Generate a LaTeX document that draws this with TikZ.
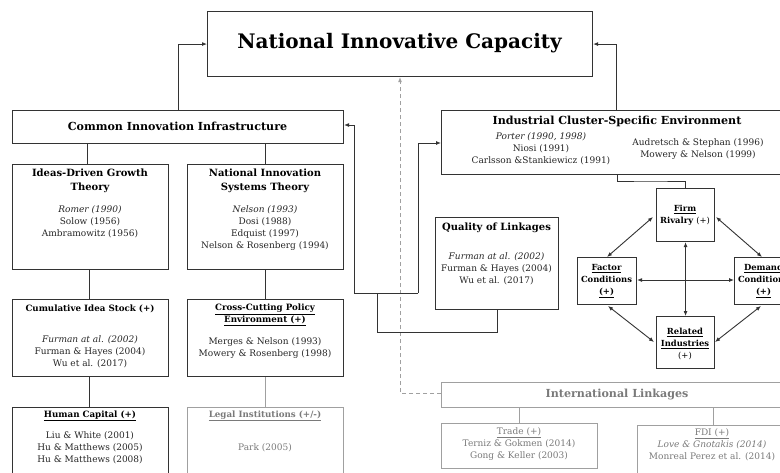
\documentclass[tikz,border=0pt]{standalone}
\usepackage{fontspec}
\setmainfont{DejaVu Serif}
\usetikzlibrary{arrows.meta}
\definecolor{boxc}{HTML}{333333}
\definecolor{grayc}{HTML}{A0A0A0}
\definecolor{grayt}{HTML}{7A7A7A}
\newcommand\mybox[6]{\node[#6, anchor=north west, minimum width={(#4-#2)*1pt}, minimum height={(#5-#3)*1pt}, inner sep=0pt] (#1) at (#2,#3) {};}
\begin{document}
\begin{tikzpicture}[x=1pt,y=-1pt,
  box/.style={draw=boxc, line width=1.1pt},
  gbox/.style={draw=grayc, line width=1.1pt},
  txt/.style={inner sep=0pt, align=center, font=\fontsize{9}{12}\selectfont, text=black!85},
  gtxt/.style={txt, text=grayt},
  hd/.style={inner sep=0pt, align=center, font=\fontsize{10}{14}\selectfont\bfseries},
  sm/.style={inner sep=0pt, align=center, font=\fontsize{8.7}{12}\selectfont\bfseries},
  pm/.style={inner sep=0pt, align=center, font=\fontsize{8.4}{12}\selectfont\bfseries},
  big/.style={inner sep=0pt, font=\fontsize{11.1}{13}\selectfont\bfseries},
  conn/.style={draw=boxc, line width=0.9pt},
  gconn/.style={draw=grayc, line width=0.9pt},
  arr/.style={conn, -{Latex[length=5pt,width=4pt]}},
  darr/.style={conn, {Latex[length=5pt,width=4pt]}-{Latex[length=5pt,width=4pt]}}]
\useasboundingbox (0,0) rectangle (780,472);
\fill[white] (0,0) rectangle (780,472);

% boxes
\mybox{nic}{207}{11}{592}{76}{box}
\mybox{cii}{12}{110}{343}{143}{box}
\mybox{idg}{12}{164}{168}{269}{box}
\mybox{nis}{187}{164}{343}{269}{box}
\mybox{cis}{12}{299}{168}{376}{box}
\mybox{ccp}{187}{299}{343}{376}{box}
\mybox{hc}{12}{407}{168}{485}{box}
\mybox{legal}{187}{407}{343}{485}{gbox}
\mybox{ql}{435}{217}{558}{309}{box}
\mybox{icse}{441}{110}{793}{174}{box}
\mybox{firm}{656}{188}{714}{241}{box}
\mybox{factor}{577}{257}{636}{304}{box}
\mybox{demand}{734}{257}{793}{304}{box}
\mybox{related}{656}{316}{714}{368}{box}
\mybox{intl}{441}{382}{793}{407}{gbox}
\mybox{trade}{441}{423}{597}{468}{gbox}
\mybox{fdi}{637}{425}{787}{480}{gbox}

% texts
\node[inner sep=0pt, font=\fontsize{20}{24}\selectfont\bfseries] (nict) at (399.5,43) {National Innovative Capacity};
\node[big] (ciit) at (177.5,126.5) {Common Innovation Infrastructure};
\node[hd] (idgh) at (90,181) {Ideas-Driven Growth\\Theory};
\node[txt] (idgc) at (90,222) {\textit{Romer (1990)}\\Solow (1956)\\Ambramowitz (1956)};
\node[hd] (nish) at (265,181) {National Innovation\\Systems Theory};
\node[txt] (nisc) at (265,228) {\textit{Nelson (1993)}\\Dosi (1988)\\Edquist (1997)\\Nelson \& Rosenberg (1994)};
\node[sm] (cish) at (90,309) {Cumulative Idea Stock (+)};
\node[txt] (cisc) at (90,352) {\textit{Furman at al. (2002)}\\Furman \& Hayes (2004)\\Wu et al. (2017)};
\node[sm] (ccph) at (265,315) {\underline{Cross-Cutting Policy}\\\underline{Environment (+)}};
\node[txt] (ccpc) at (265,348) {Merges \& Nelson (1993)\\Mowery \& Rosenberg (1998)};
\node[sm] (hch) at (90,416) {\underline{Human Capital (+)}};
\node[txt] (hcc) at (90,448) {Liu \& White (2001)\\Hu \& Matthews (2005)\\Hu \& Matthews (2008)};
\node[sm, text=grayt] (legalh) at (265,416) {\underline{Legal Institutions (+/-)}};
\node[gtxt] (legalc) at (265,448) {Park (2005)};
\node[hd] (qlh) at (496.5,228) {Quality of Linkages};
\node[txt] (qlc) at (496.5,268.5) {\textit{Furman at al. (2002)}\\Furman \& Hayes (2004)\\Wu et al. (2017)};
\node[big] (icseh) at (617,121) {Industrial Cluster-Specific Environment};
\node[txt] (icsel) at (541,149) {\textit{Porter (1990, 1998)}\\Niosi (1991)\\Carlsson \&Stankiewicz (1991)};
\node[txt] (icser) at (698,149) {Audretsch \& Stephan (1996)\\Mowery \& Nelson (1999)};
\node[pm] (firmt) at (685,215.5) {\underline{Firm}\\Rivalry \textmd{(+)}};
\node[pm] (factort) at (606.5,281) {\underline{Factor}\\Conditions\\\underline{(+)}};
\node[pm] (demandt) at (763.5,281) {\underline{Demand}\\Conditions\\\underline{(+)}};
\node[pm] (relatedt) at (685,344) {\underline{Related}\\\underline{Industries}\\\textmd{(+)}};
\node[big, text=grayt] (intlt) at (617,395) {International Linkages};
\node[gtxt] (tradet) at (519,444) {\underline{Trade (+)}\\Terniz \& Gokmen (2014)\\Gong \& Keller (2003)};
\node[gtxt] (fdit) at (712,445) {\underline{FDI (+)}\\\textit{Love \& Gnotakis (2014)}\\Monreal Perez et al. (2014)};

% coordinates
\coordinate (j1) at (354,293);
\coordinate (j2) at (418,293);
\coordinate (j3) at (377,293);

% connectors to NIC
\draw[arr] (cii.north -| 178,0) |- (nic.west);
\draw[arr] (icse.north -| 616,0) |- (nic.east);
\draw[gconn, dash pattern=on 4pt off 3pt, -{Latex[length=5pt,width=4pt]}] (intl.west |- 0,393) -| (nic.south -| 400,0);

% tree left
\draw[conn] (cii.south -| 87,0) -- (idg.north -| 87,0);
\draw[conn] (cii.south -| 265,0) -- (nis.north -| 265,0);
\draw[conn] (idg.south -| 89,0) -- (cis.north -| 89,0);
\draw[conn] (nis.south -| 265,0) -- (ccp.north -| 265,0);
\draw[conn] (cis.south -| 89,0) -- (hc.north -| 89,0);
\draw[gconn] (ccp.south -| 265,0) -- (legal.north -| 265,0);

% linkages
\draw[conn] (ql.south -| 497,0) |- (j3 |- 0,332) -- (j3);
\draw[conn] (j1) -- (j2);
\draw[arr] (j1) |- (cii.east |- 0,125);
\draw[arr] (j2) |- (icse.west |- 0,143);

% cluster to diamond
\draw[conn] (icse.south -| 617,0) |- (650,181) -| (firm.north);

% diamond arrows
\draw[darr] (653,217) -- (607,257);
\draw[darr] (716,217) -- (762,257);
\draw[darr] (608,306) -- (654,342);
\draw[darr] (761,306) -- (715,342);
\draw[darr] (factor.east |- 0,280) -- (demand.west |- 0,280);
\draw[darr] (firm.south) -- (related.north);

% international
\draw[gconn] (intl.south -| 519,0) -- (trade.north -| 519,0);
\draw[gconn] (intl.south -| 713,0) -- (fdi.north -| 713,0);
\end{tikzpicture}
\end{document}
